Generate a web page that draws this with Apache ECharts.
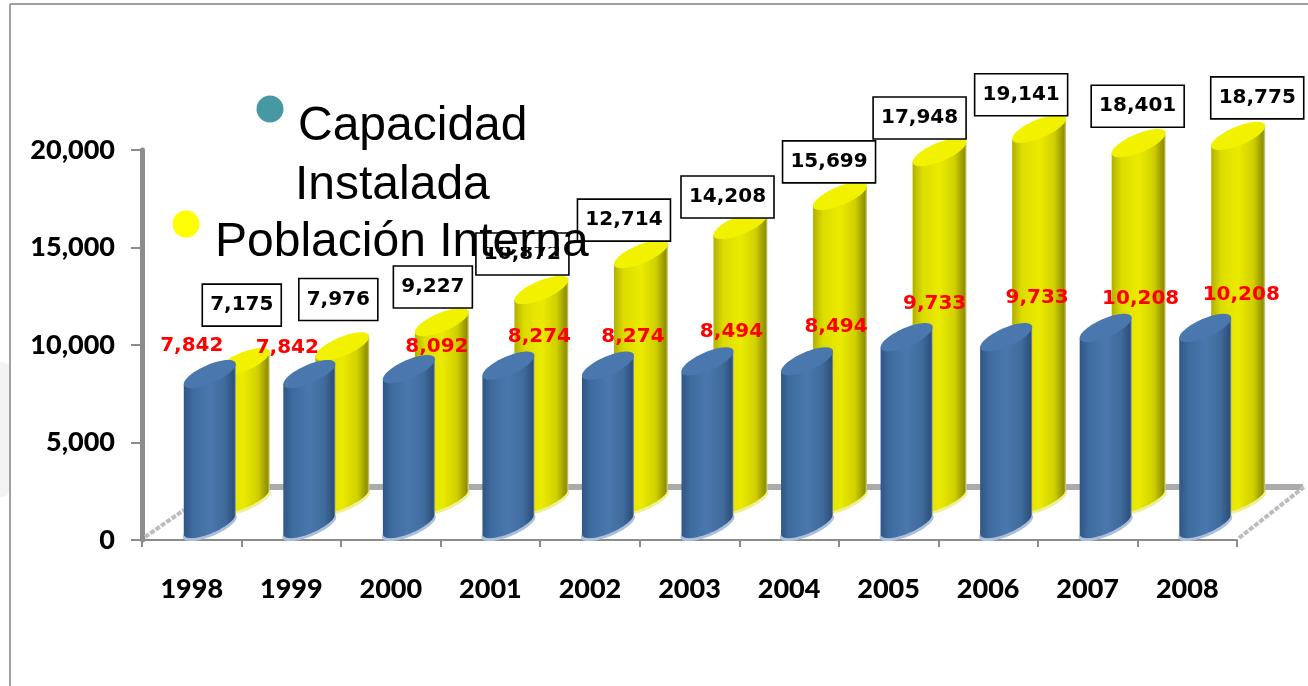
<!DOCTYPE html>
<html>
<head>
<meta charset="utf-8">
<style>html,body{margin:0;padding:0;background:#fff}#c{width:1308px;height:686px}</style>
<script src="https://cdn.jsdelivr.net/npm/echarts@6/dist/echarts.min.js"></script>
</head>
<body>
<div id="c"></div>
<script>
const years = ['1998','1999','2000','2001','2002','2003','2004','2005','2006','2007','2008'];
const capacidad = [7842,7842,8092,8274,8274,8494,8494,9733,9733,10208,10208];
const poblacion = [7175,7976,9227,10872,12714,14208,15699,17948,19141,18401,18775];
const yTicks = [0,5000,10000,15000,20000];

// hand placement of the value labels relative to each mark (layout, not data)
const capLabelNudge = [[0,-41],[-4,-39],[46,-35],[49,-42],[43,-42],[42,-43],[47,-48],[46,-46],[49,-52],[53,-42],[54,-46]];
const popLabelNudge = [[50,-95],[47,-85],[42,-73],[32,-74],[34,-72],[38,-66],[40,-72],[31,-72],[33,-72],[50,-75],[70,-76]];

const chart = echarts.init(document.getElementById('c'), null, {renderer:'canvas'});
const fmt = v => v.toLocaleString('en-US');
const LABEL_FONT = '"DejaVu Sans"';

function grad(stops){
  return {type:'linear',x:0,y:0,x2:1,y2:0,colorStops:stops.map(s=>({offset:s[0],color:s[1]}))};
}
function ell(cx,cy,a,b,tilt,t0,t1,n){
  const pts=[];
  for(let i=0;i<=n;i++){
    const t=t0+(t1-t0)*i/n;
    pts.push([cx+a*Math.cos(t),cy-tilt*Math.cos(t)+b*Math.sin(t)]);
  }
  return pts;
}
function cylinder(opt){
  return function(params,api){
    const top=api.coord([api.value(0),api.value(1)]);
    const base=api.coord([api.value(0),0]);
    const cx=top[0]+opt.dx, ty=top[1]+opt.dy, by=base[1]+opt.dy;
    const a=opt.w/2, b=10, tilt=10;
    const arc=ell(cx,by-3,a,b,tilt,0,Math.PI,40);
    const body=[[cx+a,ty-tilt]].concat(arc).concat([[cx-a,ty+tilt]]);
    return {type:'group',children:[
      {type:'polygon',shape:{points:ell(cx,by,a+1,b,tilt,0,Math.PI*2,60)},style:{fill:opt.rim}},
      {type:'polygon',shape:{points:body},style:{fill:grad(opt.body)}},
      {type:'polygon',shape:{points:ell(cx,ty,a,b,tilt,0,Math.PI*2,60)},style:{fill:opt.top}}
    ]};
  };
}
function redLabel(params,api){
  const i=params.dataIndex, p=api.coord([api.value(0),api.value(1)]), n=capLabelNudge[i];
  return {type:'text',style:{text:fmt(api.value(1)),x:p[0]+n[0],y:p[1]+n[1],align:'center',verticalAlign:'middle',
    fill:'#ff0000',font:'bold 20px '+LABEL_FONT}};
}
function boxLabel(params,api){
  const i=params.dataIndex, p=api.coord([api.value(0),api.value(1)]), n=popLabelNudge[i];
  const txt=fmt(api.value(1)), w=txt.length>5?93:79, h=42, x=p[0]+n[0], y=p[1]+n[1];
  return {type:'group',children:[
    {type:'rect',shape:{x:x-w/2,y:y-h/2,width:w,height:h},style:{fill:'#fff',stroke:'#000',lineWidth:1.6}},
    {type:'text',z2:2,style:{text:txt,x:x,y:y,align:'center',verticalAlign:'middle',fill:'#000',font:'bold 20px '+LABEL_FONT}}
  ]};
}
function floor(params,api){
  const c=params.coordSys, L=c.x, R=c.x+c.width, B=c.y+c.height;
  const st={stroke:'#bdbdbd',lineWidth:4,lineDash:[5,1.5]};
  return {type:'group',children:[
    {type:'line',shape:{x1:L+70,y1:B-53,x2:R+66,y2:B-53},style:{stroke:'#aaaaaa',lineWidth:6}},
    {type:'line',shape:{x1:L+3,y1:B-3,x2:L+42,y2:B-30},style:st},
    {type:'line',shape:{x1:R+2,y1:B-2,x2:R+67,y2:B-53},style:st}
  ]};
}

const blueStyle={dx:18,dy:-13,w:52,rim:'#a9bfdc',top:'#4a77ad',
  body:[[0,'#2f5686'],[0.18,'#3f6c9f'],[0.5,'#4a77ad'],[0.8,'#3f6a9c'],[0.97,'#2d4f78'],[1,'#8a9cb4']]};
const yellowStyle={dx:51,dy:-38,w:54,rim:'#efef94',top:'#f2f200',
  body:[[0,'#b0b000'],[0.18,'#dcdc00'],[0.5,'#ebeb00'],[0.78,'#d0d000'],[0.96,'#8f8f00'],[1,'#d8d890']]};

const capData=years.map((y,i)=>[i,capacidad[i]]);
const popData=years.map((y,i)=>[i,poblacion[i]]);

chart.setOption({
  animation:false,
  backgroundColor:'#ffffff',
  grid:{left:142,top:150,width:1095,height:390,containLabel:false},
  xAxis:{type:'category',data:years,boundaryGap:true,
    axisLine:{lineStyle:{color:'#8c8c8c',width:2}},
    axisTick:{show:true,alignWithLabel:false,length:7,lineStyle:{color:'#8c8c8c',width:2}},
    axisLabel:{margin:36,color:'#000',fontFamily:'Lato',fontWeight:900,fontSize:27}},
  yAxis:{type:'value',min:0,max:20000,interval:5000,
    axisLine:{show:true,lineStyle:{color:'#8c8c8c',width:5}},
    axisTick:{show:true,length:11,lineStyle:{color:'#8c8c8c',width:2}},
    splitLine:{show:false},
    axisLabel:{margin:27,color:'#000',fontFamily:'Lato',fontWeight:900,fontSize:27,
      formatter:v=>yTicks.includes(v)?fmt(v):''}},
  series:[
    {type:'custom',name:'floor',z:2,silent:true,data:[[0,0]],renderItem:floor},
    {type:'custom',name:'Población Interna',z:3,data:popData,renderItem:cylinder(yellowStyle)},
    {type:'custom',name:'Capacidad Instalada',z:4,data:capData,renderItem:cylinder(blueStyle)},
    {type:'custom',name:'popLabels',z:5,data:popData,renderItem:boxLabel},
    {type:'custom',name:'capLabels',z:6,data:capData,renderItem:redLabel}
  ],
  graphic:[
    {type:'rect',z:0,shape:{x:0,y:362,width:10,height:135,r:[0,8,8,0]},style:{fill:'#f3f3f3'}},
    {type:'line',z:1,shape:{x1:10,y1:4,x2:1308,y2:4},style:{stroke:'#a0a0a0',lineWidth:2}},
    {type:'line',z:1,shape:{x1:10,y1:4,x2:10,y2:686},style:{stroke:'#a0a0a0',lineWidth:2}},
    {type:'rect',z:20,shape:{x:477,y:235,width:89,height:12},style:{fill:'#fff'}},
    {type:'circle',z:21,shape:{cx:270,cy:109,r:13.5},style:{fill:'#4699a3'}},
    {type:'circle',z:21,shape:{cx:186,cy:224,r:13.5},style:{fill:'#ffff00'}},
    {type:'text',z:21,style:{text:'Capacidad',x:298,y:127,verticalAlign:'middle',fill:'#000',font:'48px "Liberation Sans"'}},
    {type:'text',z:21,style:{text:'Instalada',x:295,y:186,verticalAlign:'middle',fill:'#000',font:'48px "Liberation Sans"'}},
    {type:'text',z:21,style:{text:'Población Interna',x:215,y:243,verticalAlign:'middle',fill:'#000',font:'48px "Liberation Sans"'}}
  ]
});
</script>
</body>
</html>
